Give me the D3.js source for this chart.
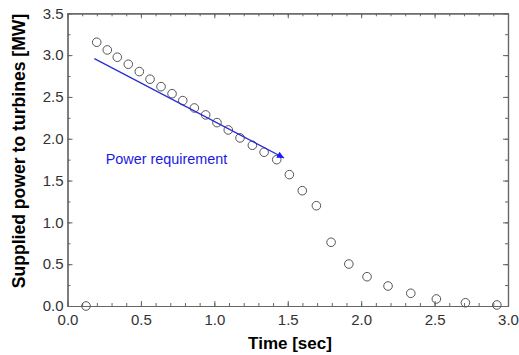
<!DOCTYPE html>
<html>
<head>
<meta charset="utf-8">
<script src="https://cdn.jsdelivr.net/npm/d3@7"></script>
<style>
  body { margin: 0; background: #fff; }
  text { font-family: "Liberation Sans", Arial, sans-serif; }
</style>
</head>
<body>
<div id="chart"></div>
<script>
// time [sec] and supplied power [MW]
const timeVals = [0.126, 0.199, 0.271, 0.339, 0.414, 0.489, 0.562, 0.637, 0.712, 0.785,
  0.864, 0.941, 1.018, 1.095, 1.175, 1.259, 1.339, 1.425, 1.511, 1.599,
  1.695, 1.795, 1.916, 2.040, 2.183, 2.338, 2.512, 2.710, 2.924];
const powerVals = [0.0, 3.154, 3.062, 2.975, 2.891, 2.803, 2.712, 2.623, 2.539, 2.456,
  2.368, 2.285, 2.193, 2.105, 2.010, 1.922, 1.839, 1.750, 1.571, 1.379,
  1.199, 0.762, 0.502, 0.350, 0.239, 0.152, 0.084, 0.039, 0.012];
// power requirement arrow: start and end
const reqTime = [0.183, 1.475];
const reqPower = [2.958, 1.77];
const xTicks = [0, 0.5, 1.0, 1.5, 2.0, 2.5, 3.0];
const yTicks = [0, 0.5, 1.0, 1.5, 2.0, 2.5, 3.0, 3.5];

const width = 519, height = 355;
const margin = {left: 67.5, right: 11, top: 13.3, bottom: 49};

const svg = d3.select("#chart").append("svg")
  .attr("width", width).attr("height", height);

const x = d3.scaleLinear().domain([0, 3]).range([margin.left, width - margin.right]);
const y = d3.scaleLinear().domain([0, 3.5]).range([height - margin.bottom, margin.top]);

const axisColor = "#666";

// minor ticks
const xMinor = d3.range(0, 31).map(d => d / 10);
const yMinor = d3.range(0, 15).map(d => d / 4);

function styleAxis(g) {
  g.select(".domain").attr("stroke", axisColor).attr("stroke-width", 1.2);
  g.selectAll(".tick line").attr("stroke", axisColor);
  g.selectAll(".tick text").attr("fill", "#333").style("font-size", "15px");
}

// bottom
svg.append("g").attr("transform", `translate(0,${y(0)})`)
  .call(d3.axisBottom(x).tickValues(xMinor).tickSizeInner(-3).tickSizeOuter(0).tickFormat(""))
  .call(styleAxis);
svg.append("g").attr("transform", `translate(0,${y(0)})`)
  .call(d3.axisBottom(x).tickValues(xTicks).tickSizeInner(-5).tickSizeOuter(0).tickPadding(8).tickFormat(d3.format(".1f")))
  .call(styleAxis);
// top
svg.append("g").attr("transform", `translate(0,${y(3.5)})`)
  .call(d3.axisTop(x).tickValues(xMinor).tickSizeInner(-3).tickSizeOuter(0).tickFormat(""))
  .call(styleAxis);
svg.append("g").attr("transform", `translate(0,${y(3.5)})`)
  .call(d3.axisTop(x).tickValues(xTicks).tickSizeInner(-5).tickSizeOuter(0).tickFormat(""))
  .call(styleAxis);
// left
svg.append("g").attr("transform", `translate(${x(0)},0)`)
  .call(d3.axisLeft(y).tickValues(yMinor).tickSizeInner(-3).tickSizeOuter(0).tickFormat(""))
  .call(styleAxis);
svg.append("g").attr("transform", `translate(${x(0)},0)`)
  .call(d3.axisLeft(y).tickValues(yTicks).tickSizeInner(-5).tickSizeOuter(0).tickPadding(4).tickFormat(d3.format(".1f")))
  .call(styleAxis);
// right
svg.append("g").attr("transform", `translate(${x(3)},0)`)
  .call(d3.axisRight(y).tickValues(yMinor).tickSizeInner(-3).tickSizeOuter(0).tickFormat(""))
  .call(styleAxis);
svg.append("g").attr("transform", `translate(${x(3)},0)`)
  .call(d3.axisRight(y).tickValues(yTicks).tickSizeInner(-5).tickSizeOuter(0).tickFormat(""))
  .call(styleAxis);

// data points
svg.append("g").selectAll("circle")
  .data(timeVals.map((t, i) => [t, powerVals[i]]))
  .join("circle")
  .attr("cx", d => x(d[0]))
  .attr("cy", d => y(d[1]))
  .attr("r", 4.3)
  .attr("fill", "none")
  .attr("stroke", "#555")
  .attr("stroke-width", 1);

// power requirement arrow
svg.append("defs").append("marker")
  .attr("id", "arrow")
  .attr("viewBox", "0 0 10 10")
  .attr("refX", 10).attr("refY", 5)
  .attr("markerWidth", 9).attr("markerHeight", 7)
  .attr("markerUnits", "userSpaceOnUse")
  .attr("orient", "auto")
  .append("path").attr("d", "M0,0L10,5L0,10Z").attr("fill", "#1a1aff");

svg.append("line")
  .attr("x1", x(reqTime[0])).attr("y1", y(reqPower[0]))
  .attr("x2", x(reqTime[1])).attr("y2", y(reqPower[1]))
  .attr("stroke", "#2a2ad8").attr("stroke-width", 1.2)
  .attr("marker-end", "url(#arrow)");

svg.append("text")
  .attr("x", x(0.26)).attr("y", y(1.70))
  .attr("fill", "#1a1ae0")
  .style("font-size", "14.4px")
  .text("Power requirement");

// axis titles
svg.append("text")
  .attr("x", 290).attr("y", 349)
  .attr("text-anchor", "middle")
  .style("font-size", "17px").style("font-weight", "bold")
  .text("Time [sec]");

svg.append("text")
  .attr("transform", "translate(25,151) rotate(-90)")
  .attr("text-anchor", "middle")
  .style("font-size", "17.6px").style("font-weight", "bold")
  .text("Supplied power to turbines [MW]");
</script>
</body>
</html>
